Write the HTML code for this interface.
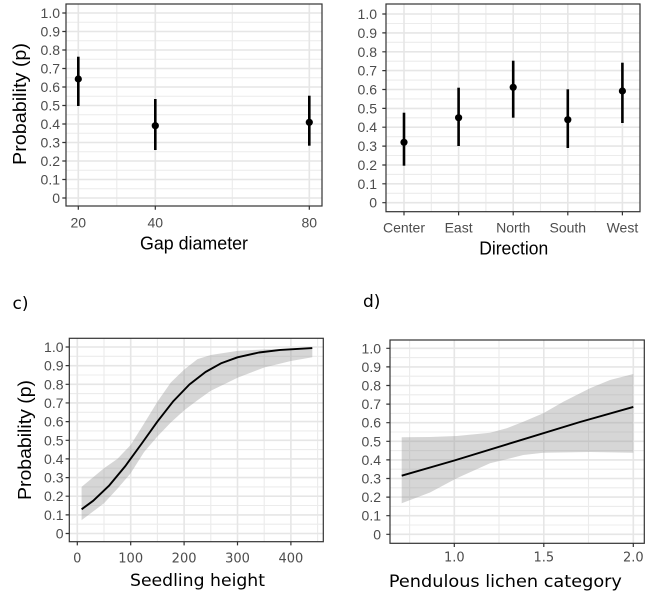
<!DOCTYPE html>
<html><head><meta charset="utf-8"><style>
html,body{margin:0;padding:0;background:#fff;}
svg{display:block;}
.tl{font-family:"Liberation Sans",Arial,sans-serif;font-size:14px;fill:#4d4d4d;}
.tl2{font-family:"DejaVu Sans","Liberation Sans",sans-serif;font-size:13px;fill:#4d4d4d;}
.ti{font-family:"Liberation Sans",Arial,sans-serif;font-size:18px;fill:#000;}
.ti2{font-family:"DejaVu Sans","Liberation Sans",sans-serif;font-size:17px;fill:#000;}
.mj{stroke:#e6e6e6;stroke-width:1.6;fill:none;}
.mn{stroke:#ececec;stroke-width:1.1;fill:none;}
.bd{fill:none;stroke:#333;stroke-width:1.2;}
.tk{stroke:#333;stroke-width:1.2;}
</style></head><body>
<svg width="650" height="598" viewBox="0 0 650 598" xmlns="http://www.w3.org/2000/svg">
<rect width="650" height="598" fill="#fff"/>

<!-- ===== Panel a ===== -->
<g>
<g class="mn">
<path d="M66 188.75H322M66 170.25H322M66 151.75H322M66 133.25H322M66 114.75H322M66 96.25H322M66 77.75H322M66 59.25H322M66 40.75H322M66 22.25H322"/>
<path d="M116.8 4V206M232.3 4V206"/>
</g>
<g class="mj">
<path d="M66 198H322M66 179.5H322M66 161H322M66 142.5H322M66 124H322M66 105.5H322M66 87H322M66 68.5H322M66 50H322M66 31.5H322M66 13H322"/>
<path d="M78.3 4V206M155.3 4V206M309.3 4V206"/>
</g>
<g stroke="#000" stroke-width="2.6">
<line x1="78.3" y1="56.7" x2="78.3" y2="106"/>
<line x1="155.3" y1="99" x2="155.3" y2="150"/>
<line x1="309.3" y1="95.7" x2="309.3" y2="145.7"/>
</g>
<circle cx="78.3" cy="79" r="3.6"/>
<circle cx="155.3" cy="125.7" r="3.6"/>
<circle cx="309.3" cy="122.3" r="3.6"/>
<rect class="bd" x="66" y="4" width="256" height="202"/>
<path class="tk" d="M62.3 198H66M62.3 179.5H66M62.3 161H66M62.3 142.5H66M62.3 124H66M62.3 105.5H66M62.3 87H66M62.3 68.5H66M62.3 50H66M62.3 31.5H66M62.3 13H66M78.3 206V209.7M155.3 206V209.7M309.3 206V209.7"/>
<g class="tl" text-anchor="end">
<text x="60" y="18">1.0</text><text x="60" y="36.5">0.9</text><text x="60" y="55">0.8</text><text x="60" y="73.5">0.7</text><text x="60" y="92">0.6</text><text x="60" y="110.5">0.5</text><text x="60" y="129">0.4</text><text x="60" y="147.5">0.3</text><text x="60" y="166">0.2</text><text x="60" y="184.5">0.1</text><text x="60" y="203">0</text>
</g>
<g class="tl" text-anchor="middle">
<text x="78.3" y="227.7">20</text><text x="155.3" y="227.7">40</text><text x="309.3" y="227.7">80</text>
</g>
<text class="ti" x="194" y="249.5" text-anchor="middle" textLength="108" lengthAdjust="spacingAndGlyphs">Gap diameter</text>
<text class="ti" transform="translate(26,104) rotate(-90)" text-anchor="middle" textLength="122" lengthAdjust="spacingAndGlyphs">Probability (p)</text>
</g>

<!-- ===== Panel b ===== -->
<g>
<g class="mn">
<path d="M386 193.3H640M386 174.4H640M386 155.5H640M386 136.7H640M386 117.8H640M386 98.9H640M386 80.1H640M386 61.2H640M386 42.3H640M386 23.5H640"/>
<path d="M431.3 4V211.7M485.9 4V211.7M540.5 4V211.7M595.1 4V211.7"/>
</g>
<g class="mj">
<path d="M386 202.7H640M386 183.8H640M386 165H640M386 146.1H640M386 127.2H640M386 108.4H640M386 89.5H640M386 70.6H640M386 51.8H640M386 32.9H640M386 14H640"/>
<path d="M404 4V211.7M458.6 4V211.7M513.2 4V211.7M567.8 4V211.7M622.4 4V211.7"/>
</g>
<g stroke="#000" stroke-width="2.6">
<line x1="404" y1="112.7" x2="404" y2="165.7"/>
<line x1="458.6" y1="87.7" x2="458.6" y2="146"/>
<line x1="513.2" y1="60.7" x2="513.2" y2="117.7"/>
<line x1="567.8" y1="89.3" x2="567.8" y2="148"/>
<line x1="622.4" y1="62.7" x2="622.4" y2="123"/>
</g>
<circle cx="404" cy="142.3" r="3.6"/>
<circle cx="458.6" cy="117.7" r="3.6"/>
<circle cx="513.2" cy="87.3" r="3.6"/>
<circle cx="567.8" cy="119.7" r="3.6"/>
<circle cx="622.4" cy="91" r="3.6"/>
<rect class="bd" x="386" y="4" width="254" height="207.7"/>
<path class="tk" d="M382.3 202.7H386M382.3 183.8H386M382.3 165H386M382.3 146.1H386M382.3 127.2H386M382.3 108.4H386M382.3 89.5H386M382.3 70.6H386M382.3 51.8H386M382.3 32.9H386M382.3 14H386M404 211.7V215.4M458.6 211.7V215.4M513.2 211.7V215.4M567.8 211.7V215.4M622.4 211.7V215.4"/>
<g class="tl" text-anchor="end">
<text x="377" y="19">1.0</text><text x="377" y="37.9">0.9</text><text x="377" y="56.8">0.8</text><text x="377" y="75.6">0.7</text><text x="377" y="94.5">0.6</text><text x="377" y="113.4">0.5</text><text x="377" y="132.2">0.4</text><text x="377" y="151.1">0.3</text><text x="377" y="170">0.2</text><text x="377" y="188.8">0.1</text><text x="377" y="207.7">0</text>
</g>
<g class="tl" text-anchor="middle">
<text x="404" y="232.3">Center</text><text x="458.6" y="232.3">East</text><text x="513.2" y="232.3">North</text><text x="567.8" y="232.3">South</text><text x="622.4" y="232.3">West</text>
</g>
<text class="ti" x="513.7" y="254.5" text-anchor="middle" textLength="69" lengthAdjust="spacingAndGlyphs">Direction</text>
</g>

<!-- ===== Panel c ===== -->
<g>
<text class="ti2" x="12.5" y="309">c)</text>
<g class="mn">
<path d="M69.3 524.2H323.3M69.3 505.5H323.3M69.3 486.9H323.3M69.3 468.2H323.3M69.3 449.6H323.3M69.3 430.9H323.3M69.3 412.3H323.3M69.3 393.6H323.3M69.3 375H323.3M69.3 356.3H323.3"/>
<path d="M104 338.3V541.7M157.4 338.3V541.7M210.8 338.3V541.7M264.2 338.3V541.7M317.6 338.3V541.7"/>
</g>
<g class="mj">
<path d="M69.3 533.5H323.3M69.3 514.9H323.3M69.3 496.2H323.3M69.3 477.6H323.3M69.3 458.9H323.3M69.3 440.3H323.3M69.3 421.6H323.3M69.3 402.95H323.3M69.3 384.3H323.3M69.3 365.65H323.3M69.3 347H323.3"/>
<path d="M77.3 338.3V541.7M130.7 338.3V541.7M184.1 338.3V541.7M237.5 338.3V541.7M290.9 338.3V541.7"/>
</g>
<polygon fill="#999" fill-opacity="0.4" points="81.6,486.9 104,468.2 117.4,458.9 130.7,444.9 144.1,423.5 157.4,401.8 170.8,382.5 184.1,369.6 197.5,359.1 210.8,355 237.5,350.9 264.2,349.4 290.9,348.9 312.3,348.3 312.3,357.3 290.9,361 264.2,367.5 237.5,377.8 210.8,390.8 197.5,400.2 184.1,410.4 170.8,422.5 157.4,436.5 144.1,452 130.7,473.3 117.4,488.7 104,503.3 81.6,520.1"/>
<polyline fill="none" stroke="#000" stroke-width="1.9" stroke-linejoin="round" points="81.6,509.3 93.3,500.7 109.3,485.4 125.4,466 141.4,444 157.4,421.6 173.4,401.1 189.4,384.5 205.5,372 221.5,363.1 237.5,357.3 258.9,352.5 280.2,349.9 312.3,348.1"/>
<rect class="bd" x="69.3" y="338.3" width="254" height="203.4"/>
<path class="tk" d="M65.6 533.5H69.3M65.6 514.9H69.3M65.6 496.2H69.3M65.6 477.6H69.3M65.6 458.9H69.3M65.6 440.3H69.3M65.6 421.6H69.3M65.6 402.95H69.3M65.6 384.3H69.3M65.6 365.65H69.3M65.6 347H69.3M77.3 541.7V545.4M130.7 541.7V545.4M184.1 541.7V545.4M237.5 541.7V545.4M290.9 541.7V545.4"/>
<g class="tl" text-anchor="end">
<text x="63.5" y="352">1.0</text><text x="63.5" y="370.65">0.9</text><text x="63.5" y="389.3">0.8</text><text x="63.5" y="407.95">0.7</text><text x="63.5" y="426.6">0.6</text><text x="63.5" y="445.3">0.5</text><text x="63.5" y="463.9">0.4</text><text x="63.5" y="482.6">0.3</text><text x="63.5" y="501.2">0.2</text><text x="63.5" y="519.9">0.1</text><text x="63.5" y="538.5">0</text>
</g>
<g class="tl2" text-anchor="middle">
<text x="77.3" y="562.5">0</text><text x="130.7" y="562.5">100</text><text x="184.1" y="562.5">200</text><text x="237.5" y="562.5">300</text><text x="290.9" y="562.5">400</text>
</g>
<text class="ti2" x="197.5" y="586" text-anchor="middle" textLength="135" lengthAdjust="spacingAndGlyphs">Seedling height</text>
<text class="ti" transform="translate(31,440) rotate(-90)" text-anchor="middle" textLength="120" lengthAdjust="spacingAndGlyphs">Probability (p)</text>
</g>

<!-- ===== Panel d ===== -->
<g>
<text class="ti2" x="363" y="307">d)</text>
<g class="mn">
<path d="M390 525H644.3M390 506.4H644.3M390 487.8H644.3M390 469.2H644.3M390 450.6H644.3M390 432H644.3M390 413.4H644.3M390 394.8H644.3M390 376.2H644.3M390 357.6H644.3"/>
<path d="M409.6 340V543.3M499 340V543.3M588.5 340V543.3"/>
</g>
<g class="mj">
<path d="M390 534.3H644.3M390 515.7H644.3M390 497.1H644.3M390 478.5H644.3M390 459.9H644.3M390 441.3H644.3M390 422.7H644.3M390 404.1H644.3M390 385.5H644.3M390 366.9H644.3M390 348.3H644.3"/>
<path d="M454.3 340V543.3M543.8 340V543.3M633.3 340V543.3"/>
</g>
<polygon fill="#999" fill-opacity="0.4" points="401.7,437.3 430,437 456.7,436 490,432.7 506.7,428.3 523.3,421.7 543.3,413.3 563.3,401.7 590,388.3 610,380 633.3,374 633.3,452.7 590,452 543.3,452.7 523.3,455 490,463.3 456.7,478.3 430,492.5 401.7,503.3"/>
<polyline fill="none" stroke="#000" stroke-width="1.9" stroke-linejoin="round" points="401.7,475.7 454.3,460.5 516.9,441.3 579.6,422.1 633.3,406.9"/>
<rect class="bd" x="390" y="340" width="254.3" height="203.3"/>
<path class="tk" d="M386.3 534.3H390M386.3 515.7H390M386.3 497.1H390M386.3 478.5H390M386.3 459.9H390M386.3 441.3H390M386.3 422.7H390M386.3 404.1H390M386.3 385.5H390M386.3 366.9H390M386.3 348.3H390M454.3 543.3V547M543.8 543.3V547M633.3 543.3V547"/>
<g class="tl" text-anchor="end">
<text x="381" y="353.3">1.0</text><text x="381" y="371.9">0.9</text><text x="381" y="390.5">0.8</text><text x="381" y="409.1">0.7</text><text x="381" y="427.7">0.6</text><text x="381" y="446.3">0.5</text><text x="381" y="464.9">0.4</text><text x="381" y="483.5">0.3</text><text x="381" y="502.1">0.2</text><text x="381" y="520.7">0.1</text><text x="381" y="539.3">0</text>
</g>
<g class="tl2" text-anchor="middle">
<text x="454.3" y="561.5">1.0</text><text x="543.8" y="561.5">1.5</text><text x="633.3" y="561.5">2.0</text>
</g>
<text class="ti2" x="505.4" y="587" text-anchor="middle" textLength="233" lengthAdjust="spacingAndGlyphs">Pendulous lichen category</text>
</g>
</svg>
</body></html>
